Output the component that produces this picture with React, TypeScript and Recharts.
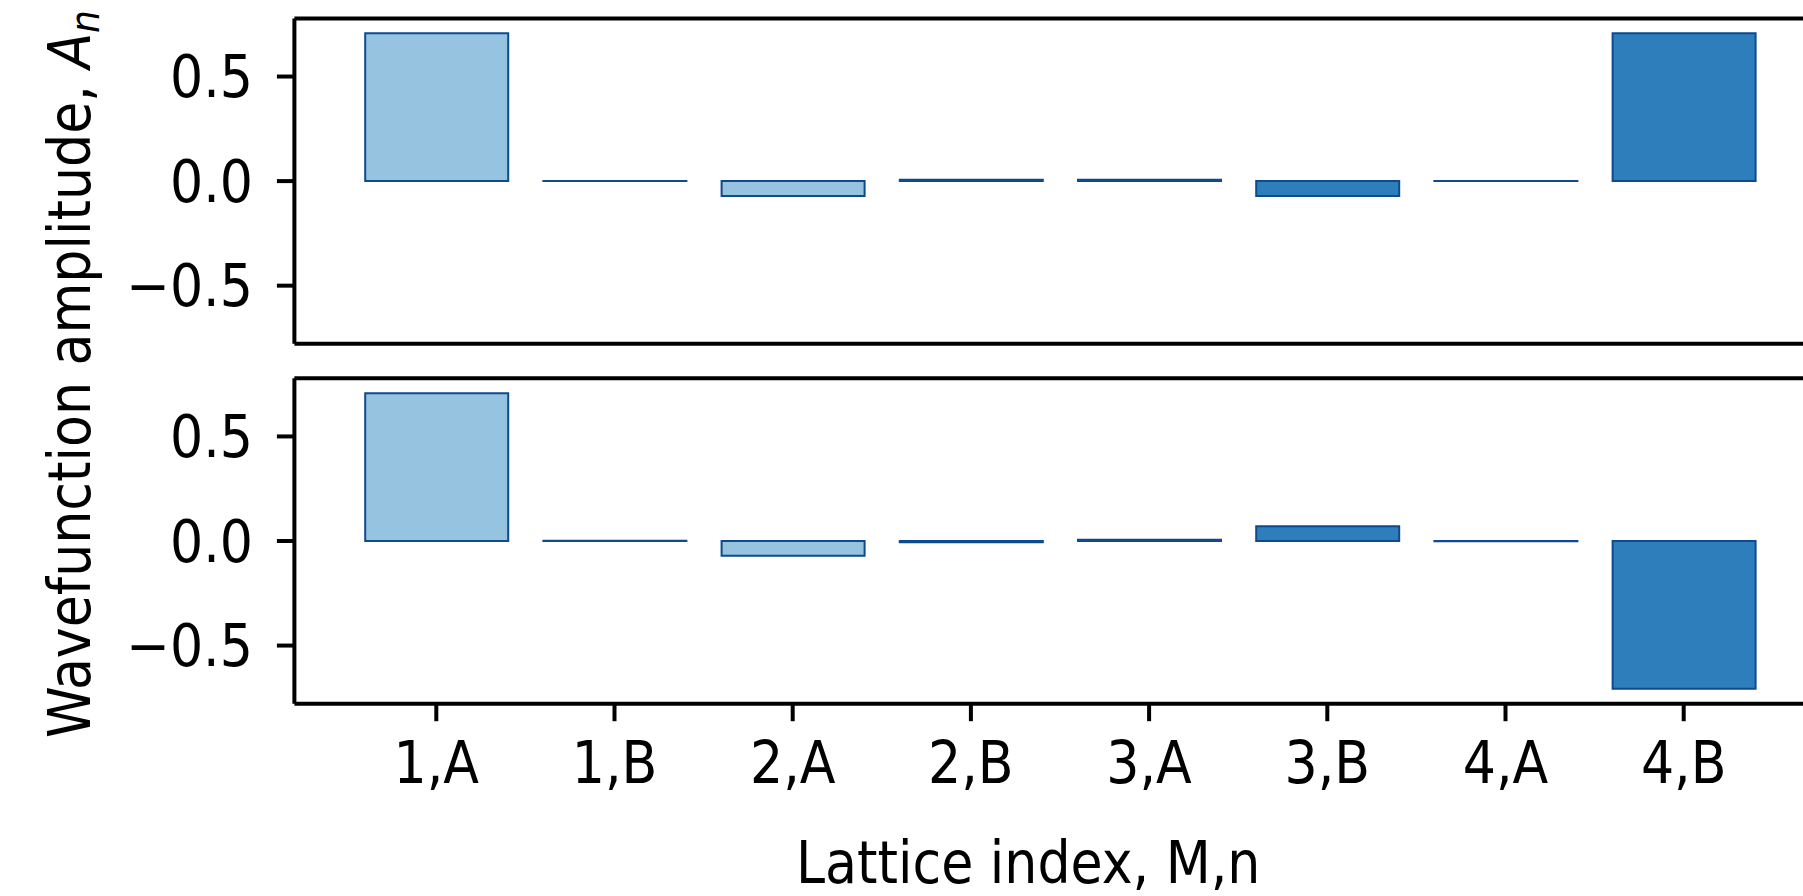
import { BarChart, Bar, XAxis, YAxis, Cell } from 'recharts';

// lattice sites along the chain
const sites = ['1,A', '1,B', '2,A', '2,B', '3,A', '3,B', '4,A', '4,B'];

// wavefunction amplitudes, upper and lower panel
const upperAmp = [0.707, 0.001, -0.071, 0.006, 0.006, -0.071, 0.001, 0.707];
const lowerAmp = [0.707, 0.001, -0.071, -0.006, 0.006, 0.071, -0.001, -0.707];

// first half of the chain light, second half dark
const siteShade = ['light', 'light', 'light', 'light', 'dark', 'dark', 'dark', 'dark'];

const yTicks = [-0.5, 0, 0.5];
const yLimit = 0.778;

const FONT = "'DejaVu Sans Condensed', 'DejaVu Sans', sans-serif";
const LIGHT = '#96c4e0';
const DARK = '#2e7ebc';
const EDGE = '#0d4a8e';

const upperData = sites.map((s, i) => ({ site: s, amp: upperAmp[i] }));
const lowerData = sites.map((s, i) => ({ site: s, amp: lowerAmp[i] }));

const fmt = (v: number) => (v < 0 ? '\u2212' + Math.abs(v).toFixed(1) : v.toFixed(1));

const axisLine = { stroke: '#000', strokeWidth: 4 };
const tickLine = { stroke: '#000', strokeWidth: 4 };
const tickText = { fill: '#000', fontSize: 58, fontFamily: FONT };

function Panel({ data, top, showLabels }: { data: { site: string; amp: number }[]; top: number; showLabels: boolean }) {
  const plotBottom = top + 325.4;
  return (
    <div style={{ position: 'absolute', left: 0, top: 0 }}>
      <BarChart
        width={1900}
        height={896}
        data={data}
        margin={{ top: top - 2, right: 72, bottom: 0, left: 0 }}
      >
        <XAxis
          dataKey="site"
          interval={0}
          height={896 - plotBottom}
          padding={{ left: 52.8, right: 55.2 }}
          axisLine={axisLine}
          tickLine={tickLine}
          tickSize={17.5}
          tickMargin={21}
          tick={showLabels ? tickText : false}
          label={
            showLabels
              ? { value: 'Lattice index, M,n', position: 'insideBottom', offset: 13, dx: -33, fill: '#000', fontSize: 58, fontFamily: FONT }
              : undefined
          }
        />
        {/* top edge of the frame */}
        <XAxis
          xAxisId="top"
          dataKey="site"
          orientation="top"
          height={2}
          padding={{ left: 52.8, right: 55.2 }}
          axisLine={axisLine}
          tickLine={false}
          tick={false}
        />
        <YAxis
          width={294.4}
          domain={[-yLimit, yLimit]}
          ticks={yTicks}
          allowDataOverflow
          axisLine={axisLine}
          tickLine={tickLine}
          tickSize={17.5}
          tickMargin={24}
          tick={tickText}
          tickFormatter={fmt}
        />
        <Bar dataKey="amp" barSize={143} stroke={EDGE} strokeWidth={2} isAnimationActive={false}>
          {data.map((d, i) => (
            <Cell key={d.site} fill={siteShade[i] === 'light' ? LIGHT : DARK} />
          ))}
        </Bar>
      </BarChart>
    </div>
  );
}

export default function App() {
  return (
    <div
      style={{
        position: 'absolute',
        left: 0,
        top: 0,
        width: 1803,
        height: 896,
        overflow: 'hidden',
        background: '#fff',
      }}
    >
      <Panel data={upperData} top={18.4} showLabels={false} />
      <Panel data={lowerData} top={378.3} showLabels={true} />
      <svg width={1803} height={896} style={{ position: 'absolute', left: 0, top: 0, pointerEvents: 'none' }}>
        <text transform="translate(90, 738) rotate(-90)" fontSize={58} fontFamily={FONT} fill="#000">
          Wavefunction amplitude,{' '}
          <tspan fontStyle="italic">A</tspan>
          <tspan fontStyle="italic" fontSize={40} dy={9}>n</tspan>
        </text>
      </svg>
    </div>
  );
}
